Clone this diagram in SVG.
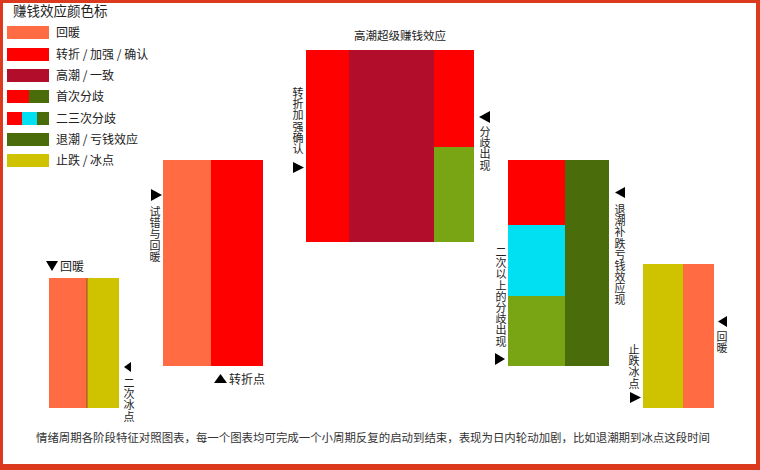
<svg xmlns="http://www.w3.org/2000/svg" width="760" height="470" viewBox="0 0 760 470">
<style>
text{font-family:"Noto Sans CJK SC","Noto Sans",sans-serif;fill:#222}
.lg{font-size:12px}
.v{font-size:11px;text-anchor:middle}
.t{font-size:11.5px}
.coral{fill:#ff6b42}
.red{fill:#ff0000}
.crim{fill:#b30d2c}
.dg{fill:#4b6c0a}
.lgn{fill:#79a514}
.cy{fill:#00e0f2}
.ye{fill:#cfc300}
.tri{fill:#000}
</style>
<rect width="760" height="470" fill="#fff"/>
<g id="border" fill="#dc3a1e">
<rect x="0" y="0" width="760" height="3"/>
<rect x="0" y="0" width="3" height="470"/>
<rect x="756" y="0" width="4" height="470"/>
<rect x="0" y="464" width="760" height="6"/>
</g>
<g id="legend">
<text x="13" y="16" style="font-size:13.5px">赚钱效应颜色标</text>
<rect class="coral" x="7" y="26" width="42" height="13"/>
<text class="lg" x="56" y="37">回暖</text>
<rect class="red" x="7" y="48" width="42" height="13"/>
<text class="lg" x="56" y="59">转折 / 加强 / 确认</text>
<rect class="crim" x="7" y="69" width="42" height="13"/>
<text class="lg" x="56" y="80">高潮 / 一致</text>
<rect class="red" x="7" y="90" width="22" height="13"/>
<rect class="dg" x="29" y="90" width="20" height="13"/>
<text class="lg" x="56" y="101">首次分歧</text>
<rect class="red" x="7" y="112" width="15" height="13"/>
<rect class="cy" x="22" y="112" width="15" height="13"/>
<rect class="dg" x="37" y="112" width="12" height="13"/>
<text class="lg" x="56" y="123">二三次分歧</text>
<rect class="dg" x="7" y="133" width="42" height="13"/>
<text class="lg" x="56" y="144">退潮 / 亏钱效应</text>
<rect class="ye" x="7" y="154" width="42" height="13"/>
<text class="lg" x="56" y="165">止跌 / 冰点</text>
</g>
<g id="chart1">
<rect class="coral" x="49" y="278" width="38" height="130"/>
<rect class="ye" x="87" y="278" width="32" height="130"/>
<line x1="87" y1="278" x2="87" y2="408" stroke="#8a3a20" stroke-width="0.8"/>
<polygon class="tri" points="46,261 58,261 52,271"/>
<text class="lg" x="60" y="271">回暖</text>
<polygon class="tri" points="124,367 131,362 131,372"/>
<text class="v" x="129" y="387"><tspan x="129">二</tspan><tspan x="129" dy="11.2">次</tspan><tspan x="129" dy="11.2">冰</tspan><tspan x="129" dy="11.2">点</tspan></text>
</g>
<g id="chart2">
<rect class="coral" x="163" y="160" width="48" height="206"/>
<rect class="red" x="211" y="160" width="52" height="206"/>
<polygon class="tri" points="151,189 162,195 151,201"/>
<text class="v" x="155" y="216"><tspan x="155">试</tspan><tspan x="155" dy="11.2">错</tspan><tspan x="155" dy="11.2">与</tspan><tspan x="155" dy="11.2">回</tspan><tspan x="155" dy="11.2">暖</tspan></text>
<polygon class="tri" points="214,383 220.5,374 227,383"/>
<text class="lg" x="229" y="384">转折点</text>
</g>
<g id="chart3">
<text class="t" x="400" y="40" text-anchor="middle">高潮超级赚钱效应</text>
<rect class="red" x="306" y="50" width="43" height="192"/>
<rect class="crim" x="349" y="50" width="85" height="192"/>
<rect class="red" x="434" y="50" width="40" height="97"/>
<rect class="lgn" x="434" y="147" width="40" height="95"/>
<text class="v" x="298" y="97"><tspan x="298">转</tspan><tspan x="298" dy="11.2">折</tspan><tspan x="298" dy="11.2">加</tspan><tspan x="298" dy="11.2">强</tspan><tspan x="298" dy="11.2">确</tspan><tspan x="298" dy="11.2">认</tspan></text>
<polygon class="tri" points="293,162 304,167.5 293,173"/>
<polygon class="tri" points="479,117 490,111 490,123"/>
<text class="v" x="485" y="136"><tspan x="485">分</tspan><tspan x="485" dy="11.2">歧</tspan><tspan x="485" dy="11.2">出</tspan><tspan x="485" dy="11.2">现</tspan></text>
</g>
<g id="chart4">
<rect class="red" x="508" y="160" width="57" height="65"/>
<rect class="cy" x="508" y="225" width="57" height="71"/>
<rect class="lgn" x="508" y="296" width="57" height="70"/>
<rect class="dg" x="565" y="160" width="44" height="206"/>
<text class="v" x="501" y="256"><tspan x="501">二</tspan><tspan x="501" dy="11.2">次</tspan><tspan x="501" dy="11.2">以</tspan><tspan x="501" dy="11.2">上</tspan><tspan x="501" dy="11.2">的</tspan><tspan x="501" dy="11.2">分</tspan><tspan x="501" dy="11.2">歧</tspan><tspan x="501" dy="11.2">出</tspan><tspan x="501" dy="11.2">现</tspan></text>
<polygon class="tri" points="495,353 505,359 495,365"/>
<polygon class="tri" points="615,192.5 625,187 625,198"/>
<text class="v" x="620" y="214"><tspan x="620">退</tspan><tspan x="620" dy="11.2">潮</tspan><tspan x="620" dy="11.2">补</tspan><tspan x="620" dy="11.2">跌</tspan><tspan x="620" dy="11.2">亏</tspan><tspan x="620" dy="11.2">钱</tspan><tspan x="620" dy="11.2">效</tspan><tspan x="620" dy="11.2">应</tspan><tspan x="620" dy="11.2">现</tspan></text>
</g>
<g id="chart5">
<rect class="ye" x="643" y="264" width="40" height="144"/>
<rect class="coral" x="683" y="264" width="31" height="144"/>
<polygon class="tri" points="718,321.5 727,316 727,327"/>
<text class="v" x="722" y="341"><tspan x="722">回</tspan><tspan x="722" dy="11.2">暖</tspan></text>
<text class="v" x="634" y="354"><tspan x="634">止</tspan><tspan x="634" dy="11.2">跌</tspan><tspan x="634" dy="11.2">冰</tspan><tspan x="634" dy="11.2">点</tspan></text>
<polygon class="tri" points="630,392 641,397.5 630,403"/>
</g>
<g id="caption">
<text class="t" x="36" y="442" textLength="674" lengthAdjust="spacingAndGlyphs" style="fill:#333">情绪周期各阶段特征对照图表，每一个图表均可完成一个小周期反复的启动到结束，表现为日内轮动加剧，比如退潮期到冰点这段时间</text>
</g>
</svg>
